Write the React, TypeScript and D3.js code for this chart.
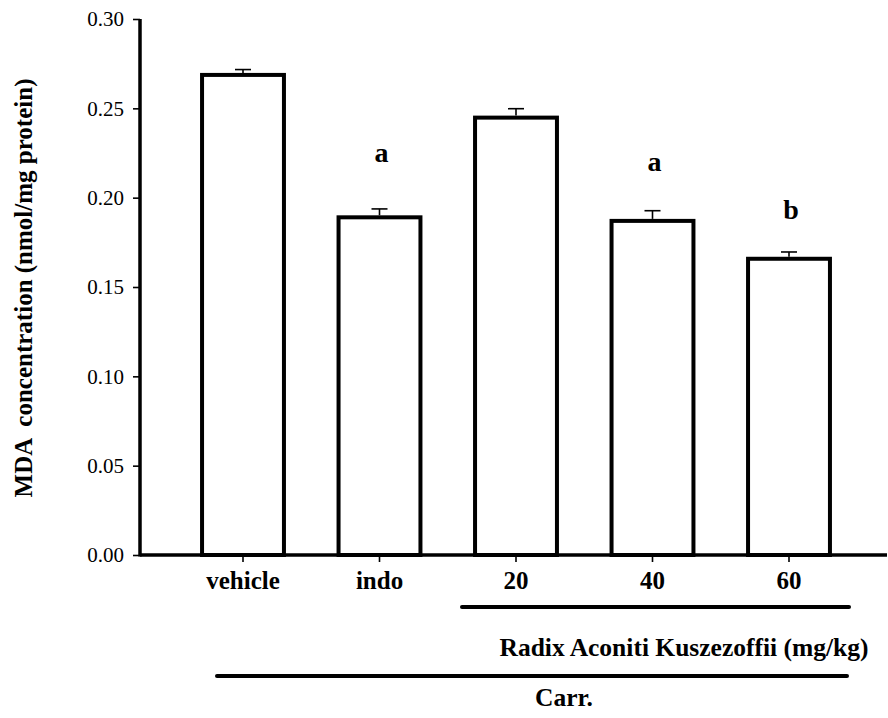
import * as d3 from "d3";
import { useEffect, useRef } from "react";

const categories = ["vehicle", "indo", "20", "40", "60"];
const means = [0.2687, 0.189, 0.2448, 0.187, 0.1658];
const errors = [0.003, 0.0047, 0.005, 0.0057, 0.0038];
const marks = ["", "a", "", "a", "b"];
const markLevels = [0, 0.22, 0, 0.215, 0.188];
const yTicks = [0, 0.05, 0.1, 0.15, 0.2, 0.25, 0.3];

const FONT = "'Liberation Serif', 'Times New Roman', serif";

const App: React.FC = () => {
  const ref = useRef<SVGSVGElement | null>(null);

  useEffect(() => {
    const svg = d3.select(ref.current);
    svg.selectAll("*").remove();

    const width = 888,
      height = 718;
    svg.attr("width", width).attr("height", height);

    const y = d3.scaleLinear().domain([0, 0.3]).range([555, 19]);
    const x = d3
      .scaleBand()
      .domain(categories)
      .range([174.75, 857.25])
      .paddingInner(0.4)
      .paddingOuter(0.2);

    // bars
    svg
      .append("g")
      .selectAll("rect")
      .data(means)
      .enter()
      .append("rect")
      .attr("x", (d, i) => x(categories[i])!)
      .attr("y", (d) => y(d))
      .attr("width", x.bandwidth())
      .attr("height", (d) => y(0) - y(d))
      .attr("fill", "#fff")
      .attr("stroke", "#000")
      .attr("stroke-width", 4);

    // error bars
    const eb = svg.append("g").attr("stroke", "#000").attr("stroke-width", 1.6);
    means.forEach((m, i) => {
      const cx = x(categories[i])! + x.bandwidth() / 2;
      eb.append("line")
        .attr("x1", cx)
        .attr("x2", cx)
        .attr("y1", y(m) - 2)
        .attr("y2", y(m + errors[i]));
      eb.append("line")
        .attr("x1", cx - 8)
        .attr("x2", cx + 8)
        .attr("y1", y(m + errors[i]))
        .attr("y2", y(m + errors[i]));
    });

    // significance letters
    svg
      .append("g")
      .selectAll("text")
      .data(marks)
      .enter()
      .append("text")
      .attr("x", (d, i) => x(categories[i])! + x.bandwidth() / 2 + 2)
      .attr("y", (d, i) => y(markLevels[i]))
      .attr("text-anchor", "middle")
      .attr("font-family", FONT)
      .attr("font-weight", "bold")
      .attr("font-size", 28)
      .text((d) => d);

    // y axis
    const yAxis = svg
      .append("g")
      .attr("transform", "translate(140,0)")
      .call(
        d3
          .axisLeft(y)
          .tickValues(yTicks)
          .tickSize(7)
          .tickPadding(9)
          .tickFormat(d3.format(".2f"))
      );
    yAxis.select(".domain").remove();
    yAxis.selectAll("line").attr("stroke-width", 1.6);
    yAxis
      .selectAll("text")
      .attr("font-family", FONT)
      .attr("font-size", 21)
      .attr("fill", "#000");

    // x axis
    const xAxis = svg
      .append("g")
      .attr("transform", `translate(0,${y(0)})`)
      .call(d3.axisBottom(x).tickSize(7).tickPadding(9));
    xAxis.select(".domain").remove();
    xAxis.selectAll("line").attr("stroke-width", 1.6);
    xAxis
      .selectAll("text")
      .attr("font-family", FONT)
      .attr("font-weight", "bold")
      .attr("font-size", 25)
      .attr("fill", "#000");

    // axis lines
    svg
      .append("line")
      .attr("x1", 140)
      .attr("x2", 140)
      .attr("y1", y(0.3))
      .attr("y2", y(0) + 1.5)
      .attr("stroke", "#000")
      .attr("stroke-width", 3.5);
    svg
      .append("line")
      .attr("x1", 140)
      .attr("x2", 887)
      .attr("y1", y(0))
      .attr("y2", y(0))
      .attr("stroke", "#000")
      .attr("stroke-width", 3.5);

    // y label
    svg
      .append("text")
      .attr("transform", "rotate(-90)")
      .attr("x", -288)
      .attr("y", 32)
      .attr("text-anchor", "middle")
      .attr("font-family", FONT)
      .attr("font-weight", "bold")
      .attr("font-size", 25)
      .style("white-space", "pre")
      .text("MDA  concentration (nmol/mg protein)");

    // group brackets
    const brackets = svg
      .append("g")
      .attr("stroke", "#000")
      .attr("stroke-width", 4)
      .attr("stroke-linecap", "round");
    brackets
      .append("line")
      .attr("x1", 462)
      .attr("x2", 849)
      .attr("y1", 607)
      .attr("y2", 607);
    brackets
      .append("line")
      .attr("x1", 217)
      .attr("x2", 847)
      .attr("y1", 676)
      .attr("y2", 676);

    svg
      .append("text")
      .attr("x", 684)
      .attr("y", 656)
      .attr("text-anchor", "middle")
      .attr("font-family", FONT)
      .attr("font-weight", "bold")
      .attr("font-size", 25.5)
      .text("Radix Aconiti Kuszezoffii (mg/kg)");
    svg
      .append("text")
      .attr("x", 564)
      .attr("y", 706)
      .attr("text-anchor", "middle")
      .attr("font-family", FONT)
      .attr("font-weight", "bold")
      .attr("font-size", 25.5)
      .text("Carr.");
  }, []);

  return (
    <svg
      ref={ref}
      style={{ position: "absolute", left: 0, top: 0, background: "#fff" }}
    ></svg>
  );
};

export default App;
